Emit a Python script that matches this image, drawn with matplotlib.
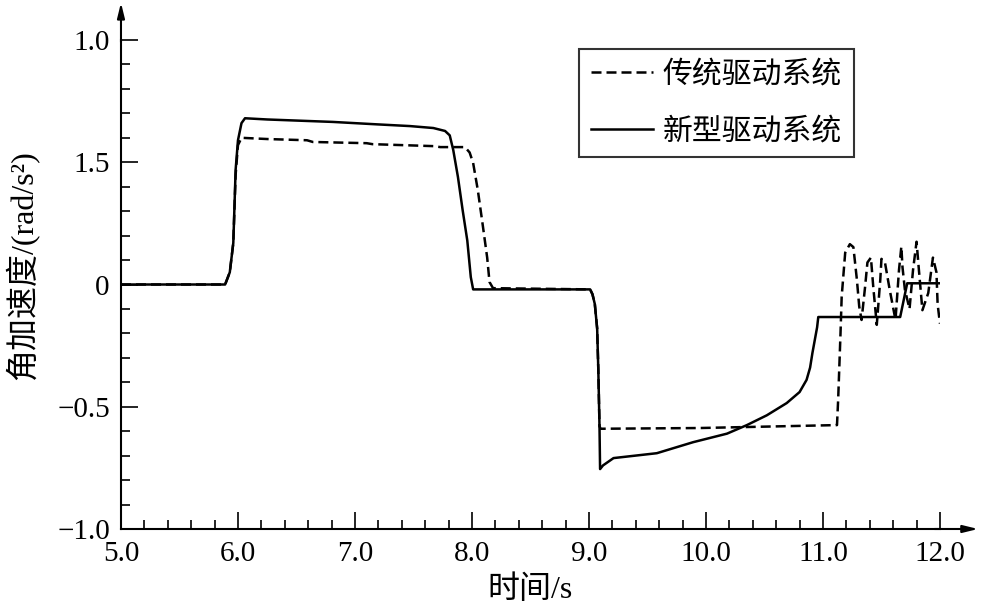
import matplotlib
matplotlib.use("Agg")
import matplotlib.pyplot as plt
from matplotlib.ticker import MultipleLocator

plt.rcParams['font.family'] = ['Liberation Serif', 'Noto Sans CJK SC']

# 新型驱动系统 (solid)
t_new = [5.0, 5.89, 5.93, 5.96, 5.98, 6.00, 6.03, 6.06, 6.25, 6.81, 7.19, 7.47,
         7.67, 7.77, 7.81, 7.84, 7.88, 7.92, 7.96, 7.99, 8.01, 9.01, 9.03, 9.05,
         9.07, 9.08, 9.09, 9.095, 9.12, 9.21, 9.58, 9.89, 10.18, 10.35, 10.52,
         10.69, 10.80, 10.86, 10.89, 10.91, 10.95, 10.96, 11.66, 11.72, 12.0]
a_new = [0.0, 0.0, 0.05, 0.17, 0.47, 0.59, 0.66, 0.68, 0.675, 0.665, 0.655, 0.648,
         0.64, 0.628, 0.61, 0.55, 0.44, 0.305, 0.18, 0.03, -0.02, -0.02, -0.04, -0.08,
         -0.18, -0.35, -0.58, -0.755, -0.74, -0.71, -0.69, -0.645, -0.61, -0.575, -0.535,
         -0.485, -0.44, -0.39, -0.34, -0.28, -0.175, -0.133, -0.133, 0.005, 0.005]

# 传统驱动系统 (dashed)
t_old = [5.0, 5.89, 5.93, 5.96, 5.98, 6.00, 6.03, 6.25, 6.59, 6.64, 7.10, 7.15,
         7.67, 7.73, 7.94, 7.98, 8.01, 8.05, 8.09, 8.13, 8.15, 8.18, 9.01, 9.03,
         9.05, 9.07, 9.08, 9.09, 9.10, 9.95, 11.12, 11.13, 11.15, 11.16, 11.19,
         11.23, 11.26, 11.29, 11.31, 11.33, 11.36, 11.38, 11.41, 11.43, 11.46,
         11.49, 11.50, 11.53, 11.57, 11.62, 11.65, 11.67, 11.68, 11.70, 11.74,
         11.77, 11.80, 11.82, 11.85, 11.90, 11.94, 11.97, 11.98, 12.0]
a_old = [0.0, 0.0, 0.05, 0.17, 0.45, 0.57, 0.60, 0.595, 0.59, 0.583, 0.578, 0.574,
         0.566, 0.562, 0.562, 0.54, 0.497, 0.386, 0.25, 0.11, 0.01, -0.015, -0.02, -0.04,
         -0.08, -0.18, -0.35, -0.58, -0.59, -0.587, -0.575, -0.47, -0.2, -0.05, 0.13,
         0.165, 0.153, 0.02, -0.09, -0.145, -0.01, 0.09, 0.11, -0.01, -0.165,
         0.02, 0.105, 0.09, -0.02, -0.145, 0.06, 0.155, 0.07, -0.02, -0.10,
         0.06, 0.175, 0.06, -0.105, -0.035, 0.11, 0.05, -0.08, -0.16]

yticks = [1.0, 0.5, 0.0, -0.5, -1.0]
ytick_labels = ["1.0", "1.5", "0", "\u22120.5", "\u22121.0"]
xticks = [5.0, 6.0, 7.0, 8.0, 9.0, 10.0, 11.0, 12.0]
xtick_labels = ["5.0", "6.0", "7.0", "8.0", "9.0", "10.0", "11.0", "12.0"]

fig = plt.figure(figsize=(9.86, 6.10), dpi=100)
ax = fig.add_axes([0.1227, 0.1328, 0.8306, 0.8016])

ax.plot(t_old, a_old, color='black', lw=1.8, linestyle=(0, (4, 2)), label='传统驱动系统')
ax.plot(t_new, a_new, color='black', lw=1.8, label='新型驱动系统')

ax.set_xlim(5.0, 12.0)
ax.set_ylim(-1.0, 1.0)
ax.set_xticks(xticks)
ax.set_xticklabels(xtick_labels)
ax.set_yticks(yticks)
ax.set_yticklabels(ytick_labels)
ax.xaxis.set_minor_locator(MultipleLocator(0.2))
ax.yaxis.set_minor_locator(MultipleLocator(0.1))
ax.tick_params(which='major', direction='in', length=12, width=1.2, labelsize=21, pad=9)
ax.tick_params(which='minor', direction='in', length=6.5, width=1.2)
ax.tick_params(axis='y', pad=8)

for s in ['top', 'right']:
    ax.spines[s].set_visible(False)
for s in ['left', 'bottom']:
    ax.spines[s].set_linewidth(1.5)

# axis arrows
ax.annotate('', xy=(1.05, 0), xytext=(0.99, 0), xycoords='axes fraction',
            arrowprops=dict(arrowstyle='-|>,head_length=0.9,head_width=0.22',
                            color='black', lw=1.5), annotation_clip=False)
ax.annotate('', xy=(0, 1.082), xytext=(0, 0.99), xycoords='axes fraction',
            arrowprops=dict(arrowstyle='-|>,head_length=0.9,head_width=0.22',
                            color='black', lw=1.5), annotation_clip=False)

ax.set_xlabel('时间/s', fontsize=23)
ax.xaxis.set_label_coords(0.5, -0.095)
ax.set_ylabel('角加速度/(rad/s²)', fontsize=23)
ax.yaxis.set_label_coords(-0.1, 0.54)

leg = ax.legend(loc='upper left', bbox_to_anchor=(0.559, 0.982), borderaxespad=0,
                fontsize=21.5, fancybox=False, frameon=True, handlelength=2.1,
                handletextpad=0.3, borderpad=0.4, labelspacing=0.95)
leg.get_frame().set_edgecolor('black')
leg.get_frame().set_linewidth(1.5)

fig.savefig('out.png', dpi=100)
